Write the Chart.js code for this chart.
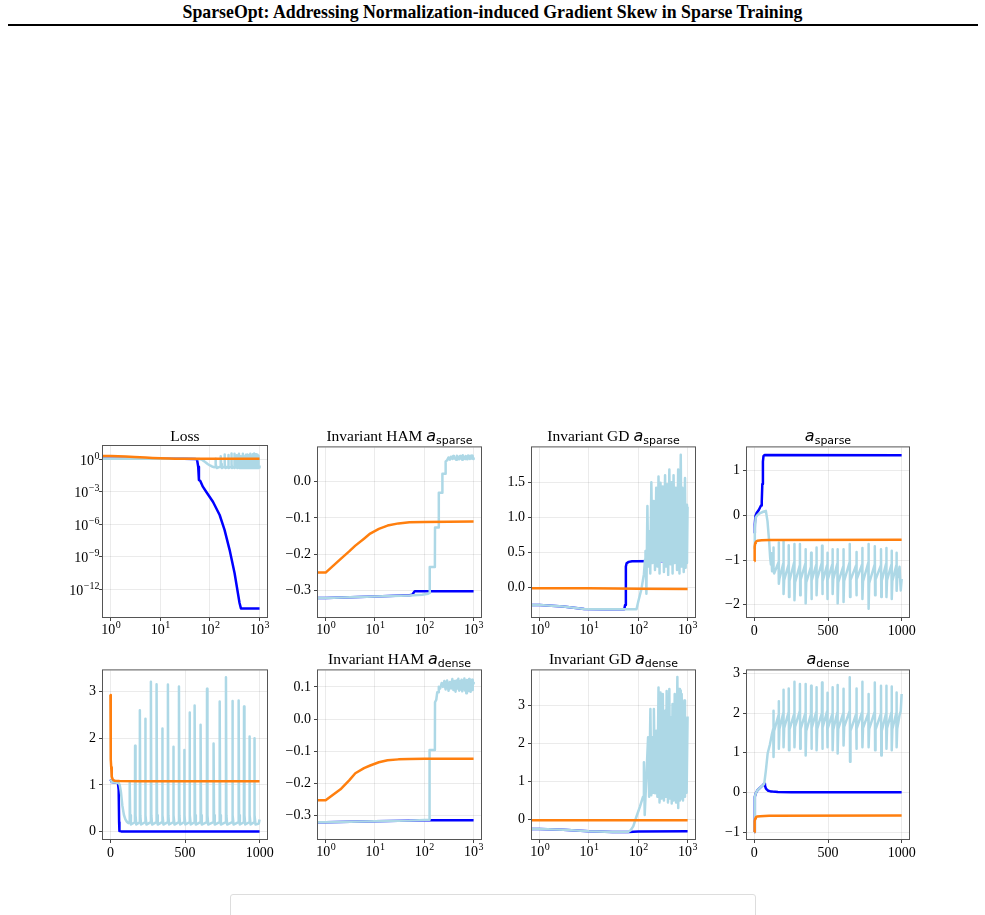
<!DOCTYPE html>
<html>
<head>
<meta charset="utf-8">
<script src="https://cdn.jsdelivr.net/npm/chart.js@4.4.0/dist/chart.umd.min.js"></script>
<style>
  body { margin: 0; background: #fff; }
  #fig { position: relative; width: 985px; height: 915px; overflow: hidden; font-family: "Liberation Serif", "Times New Roman", serif; }
  #header { position: absolute; left: 0; top: 3px; width: 985px; text-align: center; font-weight: bold; font-size: 17.8px; line-height: 19px; }
  #rule { position: absolute; left: 8px; top: 24px; width: 970px; height: 2px; background: #000; }
  canvas { position: absolute; }
  .ttl { position: absolute; text-align: center; font-size: 15.5px; line-height: 18px; white-space: nowrap; }
  .ttl i { font-family: "DejaVu Sans", sans-serif; font-size: 16px; }
  .ttl sub { font-family: "DejaVu Sans", sans-serif; font-size: 11px; line-height: 0; vertical-align: -3px; }
  #legendBox { position: absolute; left: 230px; top: 894px; width: 524px; height: 40px; border: 1px solid #ddd; border-radius: 3px; }
</style>
</head>
<body>
<div id="fig">
  <div id="header">SparseOpt: Addressing Normalization-induced Gradient Skew in Sparse Training</div>
  <div id="rule"></div>
  <div id="legendBox"></div>
</div>
<script>
// tick labels
var logStepTicks = [1, 10, 100, 1000];
var linStepTicks = [0, 500, 1000];
var lossLogTicks = [1e-12, 1e-9, 1e-6, 1e-3, 1];
var lossLinTicks = [0, 1, 2, 3];
var hamSparseTicks = [-0.3, -0.2, -0.1, 0.0];
var hamDenseTicks = [-0.3, -0.2, -0.1, 0.0, 0.1];
var gdSparseTicks = [0.0, 0.5, 1.0, 1.5];
var gdDenseTicks = [0, 1, 2, 3];
var aSparseTicks = [-2, -1, 0, 1];
var aDenseTicks = [-1, 0, 1, 2, 3];

// Loss (same run drawn on log axes and on linear axes)
var lossOrangeX = [0, 1, 2, 3, 5, 7, 10, 15, 20, 30, 60, 200, 999];
var lossOrange = [2.93, 1.95, 1.72, 1.55, 1.38, 1.27, 1.18, 1.12, 1.10, 1.09, 1.085, 1.08, 1.08];
var lossBlueX = [0, 10, 30, 50, 55, 58, 60, 64, 72, 84, 115, 157, 197, 249, 314, 395, 421, 999];
var lossBlue = [1.12, 1.06, 1.05, 1.04, 0.9, 0.2, 0.012, 0.0095, 0.0029, 0.001, 0.00012, 7.2e-6, 3.1e-7, 4.5e-9, 3.2e-11, 5.8e-14, 1.86e-14, 1.86e-14];
var lossLightX = [0, 10, 30, 55, 62, 70, 80, 90, 100, 110, 120, 128, 129, 132, 137,
  164, 165, 168, 173, 196, 197, 200, 205, 232, 233, 236, 241, 270, 271, 274, 279,
  308, 309, 312, 317, 346, 347, 350, 355, 384, 385, 388, 393, 420, 421, 424, 429,
  458, 459, 462, 467, 493, 494, 497, 502, 529, 530, 533, 538, 563, 564, 567, 572,
  603, 604, 607, 612, 646, 647, 650, 655, 690, 691, 694, 699, 731, 732, 735, 740,
  773, 774, 777, 782, 816, 817, 820, 825, 858, 859, 862, 867, 894, 895, 898, 903,
  930, 931, 934, 939, 963, 964, 967, 972, 994, 999];
var lossLight = [1.12, 1.06, 1.05, 1.04, 1.0, 0.85, 0.55, 0.36, 0.26, 0.21, 0.18, 0.19, 1.05, 0.35, 0.15,
  0.2, 1.84, 0.35, 0.15, 0.2, 2.60, 0.35, 0.15, 0.2, 2.42, 0.35, 0.15, 0.2, 3.21, 0.35, 0.15,
  0.2, 3.16, 0.35, 0.15, 0.2, 2.21, 0.35, 0.15, 0.2, 3.15, 0.35, 0.15, 0.2, 1.82, 0.35, 0.15,
  0.2, 3.11, 0.35, 0.15, 0.2, 1.75, 0.35, 0.15, 0.2, 2.55, 0.35, 0.15, 0.2, 2.70, 0.35, 0.15,
  0.2, 2.29, 0.35, 0.15, 0.2, 3.06, 0.35, 0.15, 0.2, 1.89, 0.35, 0.15, 0.2, 2.79, 0.35, 0.15,
  0.2, 3.31, 0.35, 0.15, 0.2, 2.80, 0.35, 0.15, 0.2, 2.81, 0.35, 0.15, 0.2, 2.68, 0.35, 0.15,
  0.2, 2.04, 0.35, 0.15, 0.2, 2.00, 0.35, 0.15, 0.17, 0.26];

// Invariant HAM a_sparse
var hamSparseOrangeX = [0, 1, 2, 3, 4, 6, 8, 12, 18, 30, 50, 100, 999];
var hamSparseOrange = [-0.25, -0.25, -0.213, -0.192, -0.176, -0.157, -0.143, -0.13, -0.121, -0.115, -0.112, -0.111, -0.11];
var hamSparseBlueX = [0, 1, 10, 50, 57, 64, 100, 999];
var hamSparseBlue = [-0.32, -0.32, -0.316, -0.312, -0.311, -0.301, -0.301, -0.301];
var hamSparseLightX = [0, 1, 10, 50, 90, 120, 128, 129, 164, 165, 196, 197, 232, 233, 270, 271,
  290, 309, 330, 347, 370, 385, 400, 421, 440, 459, 480, 494, 510, 530, 550, 564,
  585, 604, 625, 647, 670, 691, 710, 732, 750, 774, 795, 817, 840, 859, 880, 895,
  915, 931, 950, 964, 980, 999];
var hamSparseLight = [-0.32, -0.32, -0.316, -0.313, -0.311, -0.308, -0.306, -0.235, -0.235, -0.126, -0.126, -0.031, -0.031, 0.021, 0.021, 0.055,
  0.058, 0.066, 0.06, 0.068, 0.062, 0.07, 0.063, 0.066, 0.06, 0.071, 0.064, 0.067, 0.061, 0.07, 0.063, 0.068,
  0.06, 0.072, 0.064, 0.067, 0.062, 0.07, 0.065, 0.068, 0.061, 0.071, 0.064, 0.069, 0.062, 0.07, 0.065, 0.068,
  0.063, 0.071, 0.064, 0.069, 0.062, 0.066];

// Invariant GD a_sparse
var gdSparseOrangeX = [0, 10, 100, 999];
var gdSparseOrange = [-0.005, -0.01, -0.016, -0.022];
var gdSparseBlueX = [0, 1, 3, 8, 20, 52, 54, 56, 58, 64, 75, 999];
var gdSparseBlue = [-0.245, -0.25, -0.27, -0.305, -0.31, -0.31, -0.25, 0.3, 0.345, 0.365, 0.375, 0.378];
var gdSparseLightX = [0, 1, 3, 8, 20, 60, 92, 100, 116, 130, 137, 140,
  146, 153, 159, 165, 175, 184, 194, 205, 218, 231, 244, 257, 270, 282, 298, 314,
  331, 349, 366, 383, 404, 426, 450, 474, 496, 519, 548, 578, 610, 643, 684, 726,
  755, 784, 834, 885, 912, 941, 970, 999];
var gdSparseLight = [-0.245, -0.25, -0.27, -0.305, -0.31, -0.31, -0.31, -0.2, -0.02, 0.19, 0.4, 0.52,
  -0.09, 1.16, 0.3, 0.8, 0.2, 1.5, 0.35, 1.23, 0.25, 1.42, 0.3, 1.58, 0.2, 1.49, 0.38, 1.44,
  0.22, 1.6, 0.3, 1.47, 0.18, 1.68, 0.33, 1.5, 0.2, 1.6, 0.35, 1.42, 0.25, 1.68, 0.2, 1.89,
  0.3, 1.42, 0.22, 1.56, 0.28, 1.18, 0.35, 1.15];

// a_sparse
var aSparseOrangeX = [0, 1, 3, 6, 10, 20, 50, 100, 999];
var aSparseOrange = [-1.02, -0.85, -0.7, -0.62, -0.59, -0.57, -0.56, -0.552, -0.548];
var aSparseBlueX = [0, 3, 7, 15, 30, 45, 50, 54, 58, 62, 70, 999];
var aSparseBlue = [-0.4, -0.2, -0.02, 0.05, 0.12, 0.22, 0.3, 0.7, 1.2, 1.33, 1.35, 1.345];
var aSparseLightX = [0, 3, 9, 20, 40, 60, 78, 89, 100, 107, 112, 116, 120, 124, 128,
  129, 131, 134, 164, 165, 167, 170, 196, 197, 199, 202, 232, 233, 235, 238, 270,
  271, 273, 276, 308, 309, 311, 314, 346, 347, 349, 352, 384, 385, 387, 390, 420,
  421, 423, 426, 458, 459, 461, 464, 493, 494, 496, 499, 529, 530, 532, 535, 563,
  564, 566, 569, 603, 604, 606, 609, 646, 647, 649, 652, 690, 691, 693, 696, 731,
  732, 734, 737, 773, 774, 776, 779, 816, 817, 819, 822, 858, 859, 861, 864, 894,
  895, 897, 900, 930, 931, 933, 936, 963, 964, 966, 969, 985, 993, 999];
var aSparseLight = [-0.75, -0.3, -0.05, 0.0, 0.05, 0.08, 0.1, -0.13, -0.57, -0.94, -1.1, -0.85, -1.25, -1.0, -1.1,
  -0.72, -1.19, -1.3, -1.05, -0.61, -1.53, -1.42, -1.08, -0.57, -1.76, -1.45, -1.1, -0.67, -1.83, -1.47, -1.05,
  -0.64, -1.9, -1.5, -1.12, -0.64, -1.79, -1.44, -1.08, -0.76, -1.97, -1.5, -1.15, -0.84, -1.87, -1.46, -1.1,
  -0.72, -1.79, -1.42, -1.06, -0.68, -1.76, -1.48, -1.12, -0.84, -1.87, -1.45, -1.1, -0.76, -1.76, -1.43, -1.08,
  -0.76, -1.97, -1.5, -1.14, -0.76, -1.94, -1.47, -1.05, -0.64, -1.83, -1.45, -1.12, -0.82, -1.79, -1.44, -1.1,
  -0.73, -1.87, -1.48, -1.06, -0.64, -2.09, -1.52, -1.1, -0.69, -1.79, -1.44, -1.12, -0.76, -1.83, -1.46, -1.08,
  -0.73, -1.83, -1.45, -1.1, -0.79, -1.87, -1.47, -1.12, -0.84, -1.69, -1.42, -1.15, -1.68, -1.42];

// Invariant HAM a_dense
var hamDenseOrangeX = [0, 1, 2, 3, 4, 6, 8, 12, 18, 30, 50, 100, 999];
var hamDenseOrange = [-0.252, -0.252, -0.218, -0.19, -0.168, -0.152, -0.144, -0.134, -0.128, -0.125, -0.124, -0.123, -0.123];
var hamDenseBlueX = [0, 1, 10, 50, 128, 999];
var hamDenseBlue = [-0.32, -0.32, -0.317, -0.315, -0.314, -0.314];
var hamDenseLightX = [0, 1, 10, 50, 100, 127, 128, 164, 165, 175, 183, 196, 197,
  210, 225, 240, 255, 270, 290, 310, 330, 350, 370, 390, 410, 430, 450, 470, 490,
  510, 530, 550, 570, 590, 610, 630, 650, 670, 690, 710, 730, 750, 770, 790, 810,
  830, 850, 870, 890, 910, 930, 950, 970, 985, 999];
var hamDenseLight = [-0.32, -0.32, -0.317, -0.315, -0.313, -0.312, -0.096, -0.096, 0.052, 0.06, 0.083, 0.083, 0.1,
  0.095, 0.112, 0.1, 0.118, 0.092, 0.12, 0.088, 0.115, 0.095, 0.124, 0.09, 0.118, 0.085, 0.12, 0.095, 0.125,
  0.088, 0.117, 0.092, 0.122, 0.086, 0.119, 0.094, 0.126, 0.089, 0.115, 0.08, 0.121, 0.093, 0.118, 0.087, 0.124,
  0.091, 0.116, 0.085, 0.12, 0.095, 0.122, 0.09, 0.118, 0.11, 0.115];

// Invariant GD a_dense
var gdDenseOrangeX = [0, 10, 100, 999];
var gdDenseOrange = [-0.015, -0.017, -0.019, -0.02];
var gdDenseBlueX = [0, 1, 3, 10, 30, 63, 100, 999];
var gdDenseBlue = [-0.24, -0.245, -0.27, -0.31, -0.325, -0.325, -0.315, -0.31];
var gdDenseLightX = [0, 1, 3, 10, 30, 63, 70, 79, 92, 108, 125, 130, 135, 158, 166, 176,
  184, 192, 200, 207, 219, 231, 244, 257, 270, 282, 298, 314, 331, 349, 362, 376,
  400, 426, 442, 458, 476, 494, 520, 548, 583, 620, 645, 670, 698, 726, 742, 758,
  806, 857, 885, 913, 955, 999];
var gdDenseLight = [-0.24, -0.245, -0.27, -0.31, -0.325, -0.32, -0.28, -0.18, 0.08, 0.34, 0.6, 1.5, 0.12, 2.16, 0.6, 2.9,
  0.64, 2.16, 0.7, 2.9, 0.69, 2.33, 0.6, 3.46, 0.45, 3.33, 0.55, 3.29, 0.5, 2.85, 0.6, 3.37,
  0.45, 3.42, 0.55, 2.68, 0.42, 3.03, 0.5, 3.29, 0.45, 3.74, 0.3, 3.42, 0.5, 3.38, 0.55, 3.29,
  0.5, 3.12, 0.6, 2.64, 0.7, 2.7];

// a_dense
var aDenseOrangeX = [0, 1, 3, 6, 10, 18, 40, 100, 999];
var aDenseOrange = [-1.0, -0.85, -0.72, -0.66, -0.63, -0.61, -0.6, -0.59, -0.583];
var aDenseBlueX = [0, 2, 4, 10, 22, 45, 60, 67, 72, 78, 85, 94, 110, 123, 160, 250, 999];
var aDenseBlue = [-1.0, -0.4, -0.11, -0.02, 0.06, 0.14, 0.19, 0.22, 0.17, 0.1, 0.07, 0.04, 0.025, 0.02, 0.01, 0.005, 0.005];
var aDenseLightX = [0, 2, 4, 10, 22, 45, 60, 67, 78, 90, 105, 118, 128,
  129, 131, 134, 164, 165, 167, 170, 196, 197, 199, 202, 232, 233, 235, 238, 270,
  271, 273, 276, 308, 309, 311, 314, 346, 347, 349, 352, 384, 385, 387, 390, 420,
  421, 423, 426, 458, 459, 461, 464, 493, 494, 496, 499, 529, 530, 532, 535, 563,
  564, 566, 569, 603, 604, 606, 609, 646, 647, 649, 652, 690, 691, 693, 696, 731,
  732, 734, 737, 773, 774, 776, 779, 816, 817, 819, 822, 858, 859, 861, 864, 894,
  895, 897, 900, 930, 931, 933, 936, 963, 964, 966, 969, 985, 993, 999];
var aDenseLight = [-1.0, -0.4, -0.11, -0.02, 0.06, 0.14, 0.19, 0.22, 0.55, 0.98, 1.2, 1.45, 1.6,
  2.06, 0.89, 1.55, 1.95, 2.30, 1.1, 1.6, 2.0, 2.59, 1.14, 1.62, 2.02, 2.62, 1.06, 1.58, 1.98,
  2.79, 1.14, 1.65, 2.05, 2.73, 1.1, 1.6, 2.0, 2.73, 0.93, 1.55, 1.97, 2.69, 1.1, 1.62, 2.03,
  2.65, 1.06, 1.6, 2.0, 2.77, 1.1, 1.63, 2.04, 2.51, 1.14, 1.6, 1.98, 2.65, 1.06, 1.58, 2.02,
  2.71, 0.98, 1.6, 2.0, 2.61, 1.18, 1.65, 2.05, 2.90, 0.77, 1.55, 1.97, 2.62, 1.1, 1.6, 2.02,
  2.79, 1.14, 1.62, 2.0, 2.48, 1.14, 1.6, 2.03, 2.77, 1.06, 1.58, 1.98, 2.69, 0.93, 1.55, 2.0,
  2.69, 1.1, 1.62, 2.02, 2.67, 1.06, 1.6, 2.0, 2.52, 1.14, 1.6, 1.95, 2.05, 2.48];

var BLUE = '#0000ff', LIGHT = '#add8e6', ORANGE = '#ff7f0e';
var TICK_FONT = '"Liberation Serif", serif';

function fmtInt(v) { return String(Math.round(v)).replace('-', '\u2212'); }
function fmtOne(v) { return v.toFixed(1).replace('-', '\u2212'); }

// draws "10" with a raised exponent, like matplotlib's log labels
function drawPow(ctx, v, x, y, align) {
  var base = '10';
  var exp = String(Math.round(Math.log10(v))).replace('-', '\u2212');
  ctx.font = '14px ' + TICK_FONT;
  var w1 = ctx.measureText(base).width;
  ctx.font = '10px ' + TICK_FONT;
  var w2 = ctx.measureText(exp).width;
  var start = align === 'right' ? x - w1 - w2 : x - (w1 + w2) / 2;
  ctx.textAlign = 'left';
  ctx.textBaseline = 'alphabetic';
  ctx.font = '14px ' + TICK_FONT;
  ctx.fillText(base, start, y);
  ctx.font = '10px ' + TICK_FONT;
  ctx.fillText(exp, start + w1 + 0.5, y - 6);
}

// box round the plot area (matplotlib spines) and the log tick labels
function panelPlugin(logX, logY) {
  return {
    id: 'panelExtras',
    afterDraw: function (chart) {
      var a = chart.chartArea, ctx = chart.ctx;
      ctx.save();
      ctx.strokeStyle = '#555';
      ctx.lineWidth = 1;
      ctx.strokeRect(a.left - 0.5, a.top - 0.5, a.right - a.left + 1, a.bottom - a.top + 1);
      ctx.fillStyle = '#000';
      if (logX) {
        logStepTicks.forEach(function (v) {
          drawPow(ctx, v, chart.scales.x.getPixelForValue(v), a.bottom + 17, 'center');
        });
      }
      if (logY) {
        lossLogTicks.forEach(function (v) {
          drawPow(ctx, v, a.left - 4, chart.scales.y.getPixelForValue(v) + 5.5, 'right');
        });
      }
      ctx.restore();
    }
  };
}

function series(xs, ys, color, logX) {
  return {
    data: xs.map(function (x, i) { return { x: (logX && x <= 0) ? 1e-6 : x, y: ys[i] }; }),
    borderColor: color,
    borderWidth: 2.5,
    borderJoinStyle: 'round',
    pointRadius: 0,
    fill: false,
    tension: 0
  };
}

function axis(type, min, max, ticks, fmt, isX) {
  var isLog = type === 'logarithmic';
  return {
    type: type,
    min: min,
    max: max,
    afterBuildTicks: function (s) { s.ticks = ticks.map(function (v) { return { value: v }; }); },
    afterFit: function (s) { if (isX) { s.height = 35; } else { s.width = 60; } },
    grid: { color: 'rgba(0,0,0,0.08)', lineWidth: 1, drawTicks: true, tickLength: 4, tickColor: '#444' },
    border: { display: false },
    ticks: {
      display: !isLog,
      callback: fmt, color: '#000', autoSkip: false, maxRotation: 0,
      padding: isX ? 2 : 3,
      font: { family: 'Liberation Serif', size: 14 }
    }
  };
}

var fig = document.getElementById('fig');

function drawPanel(p) {
  var canvas = document.createElement('canvas');
  canvas.width = p.w + 75;
  canvas.height = p.h + 45;
  canvas.style.left = (p.left - 60) + 'px';
  canvas.style.top = (p.top - 10) + 'px';
  fig.appendChild(canvas);

  if (p.title) {
    var t = document.createElement('div');
    t.className = 'ttl';
    t.innerHTML = p.title;
    t.style.left = p.left + 'px';
    t.style.width = p.w + 'px';
    t.style.top = (p.top - 19) + 'px';
    fig.appendChild(t);
  }

  var logX = p.xType === 'logarithmic';
  var logY = p.yType === 'logarithmic';
  // orange on top, then light blue, blue at the bottom
  var datasets = [
    series(p.orange[0], p.orange[1], ORANGE, logX),
    series(p.light[0], p.light[1], LIGHT, logX),
    series(p.blue[0], p.blue[1], BLUE, logX)
  ];

  return new Chart(canvas.getContext('2d'), {
    type: 'line',
    data: { datasets: datasets },
    options: {
      responsive: false,
      animation: false,
      layout: { padding: { left: 0, top: 10, right: 15, bottom: 0 } },
      plugins: { legend: { display: false }, tooltip: { enabled: false } },
      scales: {
        x: axis(p.xType, p.xMin, p.xMax, logX ? logStepTicks : linStepTicks, fmtInt, true),
        y: axis(p.yType || 'linear', p.yMin, p.yMax, p.yTicks, p.yFmt, false)
      }
    },
    plugins: [panelPlugin(logX, logY)]
  });
}

var LOGMIN = 0.708, LOGMAX = 1412;

// row 1
drawPanel({ left: 103, top: 446, w: 164, h: 171, title: 'Loss',
  xType: 'logarithmic', xMin: LOGMIN, xMax: LOGMAX,
  yType: 'logarithmic', yMin: 3.2e-15, yMax: 16, yTicks: lossLogTicks, yFmt: fmtInt,
  orange: [lossOrangeX, lossOrange], light: [lossLightX, lossLight], blue: [lossBlueX, lossBlue] });

drawPanel({ left: 318, top: 446, w: 163, h: 171, title: 'Invariant HAM <i>a</i><sub>sparse</sub>',
  xType: 'logarithmic', xMin: LOGMIN, xMax: LOGMAX,
  yMin: -0.372, yMax: 0.0936, yTicks: hamSparseTicks, yFmt: fmtOne,
  orange: [hamSparseOrangeX, hamSparseOrange], light: [hamSparseLightX, hamSparseLight], blue: [hamSparseBlueX, hamSparseBlue] });

drawPanel({ left: 532, top: 446, w: 163, h: 171, title: 'Invariant GD <i>a</i><sub>sparse</sub>',
  xType: 'logarithmic', xMin: LOGMIN, xMax: LOGMAX,
  yMin: -0.42, yMax: 1.995, yTicks: gdSparseTicks, yFmt: fmtOne,
  orange: [gdSparseOrangeX, gdSparseOrange], light: [gdSparseLightX, gdSparseLight], blue: [gdSparseBlueX, gdSparseBlue] });

drawPanel({ left: 747, top: 446, w: 162, h: 171, title: '<i>a</i><sub>sparse</sub>',
  xType: 'linear', xMin: -50, xMax: 1049,
  yMin: -2.275, yMax: 1.52, yTicks: aSparseTicks, yFmt: fmtInt,
  orange: [aSparseOrangeX, aSparseOrange], light: [aSparseLightX, aSparseLight], blue: [aSparseBlueX, aSparseBlue] });

// row 2
drawPanel({ left: 103, top: 669, w: 164, h: 170, title: '',
  xType: 'linear', xMin: -50, xMax: 1049,
  yMin: -0.16, yMax: 3.455, yTicks: lossLinTicks, yFmt: fmtInt,
  orange: [lossOrangeX, lossOrange], light: [lossLightX, lossLight], blue: [lossBlueX, lossBlue] });

drawPanel({ left: 318, top: 669, w: 163, h: 170, title: 'Invariant HAM <i>a</i><sub>dense</sub>',
  xType: 'logarithmic', xMin: LOGMIN, xMax: LOGMAX,
  yMin: -0.372, yMax: 0.151, yTicks: hamDenseTicks, yFmt: fmtOne,
  orange: [hamDenseOrangeX, hamDenseOrange], light: [hamDenseLightX, hamDenseLight], blue: [hamDenseBlueX, hamDenseBlue] });

drawPanel({ left: 532, top: 669, w: 163, h: 170, title: 'Invariant GD <i>a</i><sub>dense</sub>',
  xType: 'logarithmic', xMin: LOGMIN, xMax: LOGMAX,
  yMin: -0.51, yMax: 3.91, yTicks: gdDenseTicks, yFmt: fmtInt,
  orange: [gdDenseOrangeX, gdDenseOrange], light: [gdDenseLightX, gdDenseLight], blue: [gdDenseBlueX, gdDenseBlue] });

drawPanel({ left: 747, top: 669, w: 162, h: 170, title: '<i>a</i><sub>dense</sub>',
  xType: 'linear', xMin: -50, xMax: 1049,
  yMin: -1.175, yMax: 3.075, yTicks: aDenseTicks, yFmt: fmtInt,
  orange: [aDenseOrangeX, aDenseOrange], light: [aDenseLightX, aDenseLight], blue: [aDenseBlueX, aDenseBlue] });
</script>
</body>
</html>
